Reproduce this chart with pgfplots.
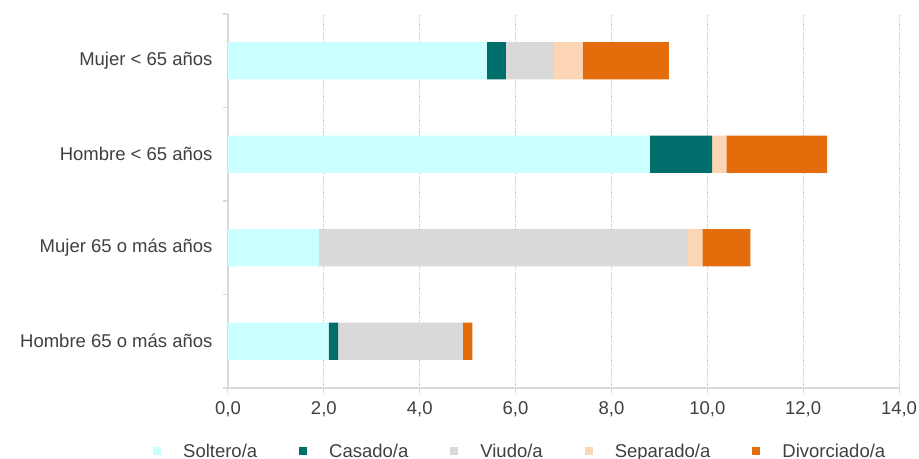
\documentclass[border=0pt]{standalone}
\usepackage{fontspec}
\setmainfont{Liberation Sans}
\usepackage{pgfplots}
\pgfplotsset{compat=1.18}

\definecolor{soltero}{HTML}{CCFFFF}
\definecolor{casado}{HTML}{006E6A}
\definecolor{viudo}{HTML}{D9D9D9}
\definecolor{separado}{HTML}{FCD5B4}
\definecolor{divorciado}{HTML}{E46C0A}
\definecolor{axisgray}{HTML}{D9D9D9}
\definecolor{gridgray}{HTML}{C4C4C4}
\definecolor{txt}{HTML}{404040}

\pgfplotsset{
  sq/.style={legend image code/.code={\fill[##1] (0bp,-4bp) rectangle (8bp,4bp);}},
}

\begin{document}
\begin{tikzpicture}[font=\fontsize{18.5bp}{22bp}\selectfont]
\begin{axis}[
  scale only axis,
  width=671bp, height=374bp,
  xbar stacked,
  bar width=0.4,
  xmin=0, xmax=14,
  ymin=-0.5, ymax=3.5,
  xtick={0,2,...,14},
  ytick={0,1,2,3},
  yticklabels={Hombre 65 o más años, Mujer 65 o más años, Hombre < 65 años, Mujer < 65 años},
  minor ytick={-0.5,0.5,1.5,2.5,3.5},
  axis x line=bottom, axis y line=left,
  axis line style={-, draw=axisgray, line width=1.5bp},
  tick align=outside,
  major tick length=5bp, minor tick length=5bp,
  y tick style={draw=none},
  minor y tick style={draw=axisgray, line width=1.5bp},
  x tick style={draw=axisgray, line width=1bp},
  xmajorgrids,
  major grid style={draw=gridgray, line width=1bp, dash pattern=on 1.2bp off 1.2bp},
  ticklabel style={font=\fontsize{18.5bp}{22bp}\selectfont, text=txt},
  yticklabel style={xshift=-7bp},
  xticklabel style={yshift=-5bp},
  /pgf/number format/.cd, fixed, fixed zerofill, precision=1, use comma, assume math mode=true,
  /pgfplots/.cd,
  legend columns=5,
  legend cell align=left,
  legend style={draw=none, fill=none, inner sep=0pt, at={(-0.1118,-0.1690)}, anchor=west,
    font=\fontsize{18.5bp}{22bp}\selectfont, text=txt,
    /tikz/every odd column/.append style={column sep=20bp},
    /tikz/every even column/.append style={column sep=40bp}},
]
\addplot[fill=soltero, draw=none, sq] coordinates {(2.1,0) (1.9,1) (8.8,2) (5.4,3)};
\addplot[fill=casado, draw=none, sq] coordinates {(0.2,0) (0,1) (1.3,2) (0.4,3)};
\addplot[fill=viudo, draw=none, sq] coordinates {(2.6,0) (7.7,1) (0,2) (1.0,3)};
\addplot[fill=separado, draw=none, sq] coordinates {(0,0) (0.3,1) (0.3,2) (0.6,3)};
\addplot[fill=divorciado, draw=none, sq] coordinates {(0.2,0) (1.0,1) (2.1,2) (1.8,3)};
\legend{Soltero/a, Casado/a, Viudo/a, Separado/a, Divorciado/a}
\end{axis}
\pgfresetboundingbox
\path (-228bp,-71bp) rectangle (691bp,388bp);
\end{tikzpicture}
\end{document}
